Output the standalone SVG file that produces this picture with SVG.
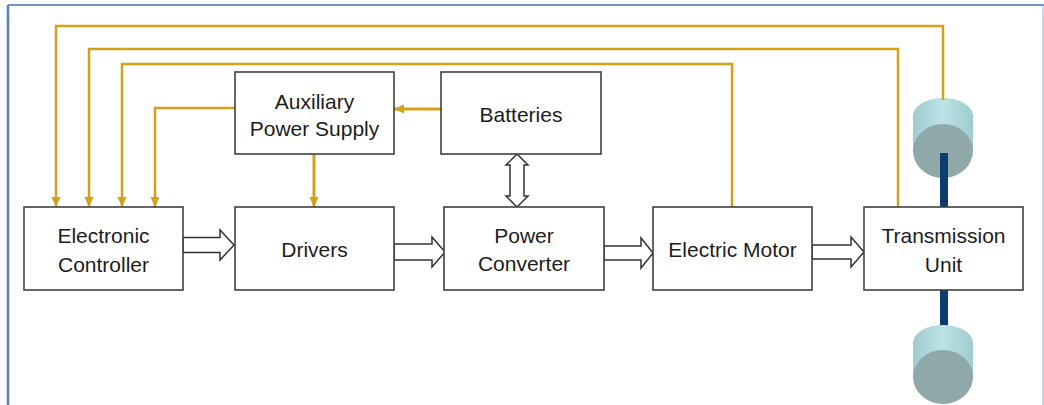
<svg xmlns="http://www.w3.org/2000/svg" width="1044" height="405" viewBox="0 0 1044 405">
<style>
.box{fill:#fff;stroke:#404040;stroke-width:1.6}
.lbl{font-family:"Liberation Sans",Arial,sans-serif;font-size:21px;fill:#1c1c1c;text-anchor:middle}
.sig{fill:none;stroke:#D4A017;stroke-width:2.5;marker-end:url(#ah)}
.sig2{fill:none;stroke:#D4A017;stroke-width:3;marker-end:url(#ah)}
.sig0{fill:none;stroke:#D4A017;stroke-width:2.5}
.blk{fill:#fff;stroke:#333;stroke-width:1.5;stroke-linejoin:miter}
.wheelside{fill:url(#wg)}
.wheelface{fill:#8FA8AA}
.shaft{fill:#0B3D6E}
</style>
<defs>
<marker id="ah" markerUnits="userSpaceOnUse" markerWidth="11" markerHeight="10" refX="10" refY="4.5" orient="auto">
<path d="M0,0 L10,4.5 L0,9 z" fill="#D4A017"/>
</marker>
<linearGradient id="wg" x1="0" y1="0" x2="1" y2="0">
<stop offset="0" stop-color="#9FCBCF"/>
<stop offset="0.5" stop-color="#BDE3E6"/>
<stop offset="1" stop-color="#9FCBCF"/>
</linearGradient>
</defs>
<rect x="0" y="0" width="1044" height="405" fill="#fff"/>
<g id="frame">
<line x1="8" y1="5" x2="8" y2="405" stroke="#4F81BD" stroke-width="2.5"/>
<line x1="8" y1="5" x2="1044" y2="5" stroke="#6F93CC" stroke-width="2"/>
<line x1="1043" y1="5" x2="1043" y2="405" stroke="#8EAADB" stroke-width="1"/>
</g>
<g id="wheels">
<rect class="shaft" x="940" y="150" width="8" height="58"/>
<rect class="shaft" x="940" y="290" width="8" height="40"/>
<path class="wheelside" d="M913,116 A30,18 0 0 1 973,116 L973,151 L913,151 Z"/>
<ellipse class="wheelface" cx="943" cy="151" rx="30" ry="27"/>
<rect class="shaft" x="940" y="153" width="8" height="55"/>
<path class="wheelside" d="M913,343 A30,18 0 0 1 973,343 L973,378 L913,378 Z"/>
<ellipse class="wheelface" cx="943" cy="377" rx="30" ry="27"/>
</g>
<g id="connectors">
<polyline class="sig" points="943,100 943,26 56,26 56,207"/>
<polyline class="sig" points="898,207 898,49 89,49 89,207"/>
<polyline class="sig" points="732,207 732,64 122,64 122,207"/>
<polyline class="sig" points="235,108 155,108 155,207"/>
<polyline class="sig2" points="441,109 394,109"/>
<polyline class="sig2" points="314,154 314,207"/>
<polygon class="blk" points="183,237.5 220,237.5 220,230 234,245 220,260 220,252.5 183,252.5"/>
<polygon class="blk" points="394,244 432,244 432,237 445,252 432,267 432,260 394,260"/>
<polygon class="blk" points="604,246 641,246 641,238 653,253 641,268 641,260 604,260"/>
<polygon class="blk" points="812,245 851,245 851,237 864,252 851,267 851,259 812,259"/>
<polygon class="blk" points="517,154 528,165 524,165 524,196 528,196 517,207 506,196 510,196 510,165 506,165"/>
</g>
<g id="electronic-controller">
<rect class="box" x="24" y="207" width="159" height="83"/>
<text class="lbl" x="103.5" y="243">Electronic</text>
<text class="lbl" x="103.5" y="272">Controller</text>
</g>
<g id="drivers">
<rect class="box" x="235" y="207" width="159" height="83"/>
<text class="lbl" x="314.5" y="257">Drivers</text>
</g>
<g id="auxiliary-power-supply">
<rect class="box" x="235" y="72" width="159" height="82"/>
<text class="lbl" x="314.5" y="109">Auxiliary</text>
<text class="lbl" x="314.5" y="136">Power Supply</text>
</g>
<g id="batteries">
<rect class="box" x="441" y="72" width="160" height="82"/>
<text class="lbl" x="521" y="122">Batteries</text>
</g>
<g id="power-converter">
<rect class="box" x="444" y="207" width="160" height="83"/>
<text class="lbl" x="524" y="243">Power</text>
<text class="lbl" x="524" y="271">Converter</text>
</g>
<g id="electric-motor">
<rect class="box" x="653" y="207" width="159" height="83"/>
<text class="lbl" x="732.5" y="257">Electric Motor</text>
</g>
<g id="transmission-unit">
<rect class="box" x="864" y="207" width="159" height="83"/>
<text class="lbl" x="943.5" y="243">Transmission</text>
<text class="lbl" x="943.5" y="272">Unit</text>
</g>
</svg>
